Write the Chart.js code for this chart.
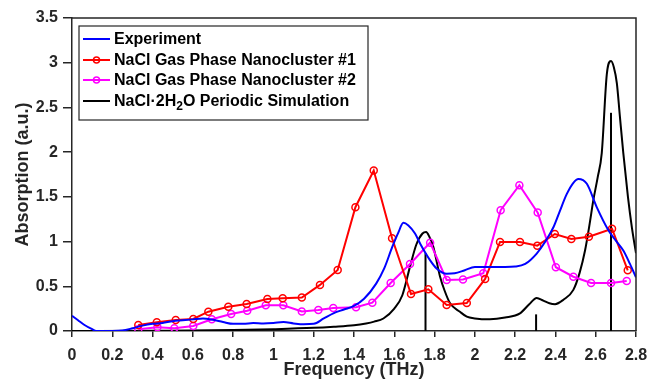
<!DOCTYPE html>
<html><head><meta charset="utf-8">
<script src="https://cdn.jsdelivr.net/npm/chart.js@4.4.1/dist/chart.umd.min.js"></script>
<style>html,body{margin:0;padding:0;background:#fff}</style>
</head><body>
<canvas id="c" width="649" height="386"></canvas>
<script>
// ---- data ----
const seriesNames = ['Experiment', 'NaCl Gas Phase Nanocluster #1', 'NaCl Gas Phase Nanocluster #2', 'NaCl·2H₂O Periodic Simulation'];
const seriesColors = ['#0000ff', '#ff0000', '#ff00ff', '#000000'];

const expX = [0,0.03,0.06,0.1,0.12,0.2,0.25,0.3,0.35,0.4,0.45,0.5,0.55,0.6,0.65,0.7,0.75,0.8,0.85,0.9,0.95,1.0,1.05,1.1,1.15,1.2,1.25,1.3,1.35,1.4,1.45,1.51,1.55,1.59,1.62,1.645,1.67,1.703,1.73,1.778,1.81,1.86,1.9,1.95,2.0,2.05,2.1,2.15,2.2,2.25,2.307,2.35,2.39,2.42,2.456,2.49,2.514,2.556,2.605,2.663,2.7,2.737,2.77,2.8];
const expY = [0.17,0.12,0.07,0.02,0.0,0.0,0.005,0.03,0.06,0.08,0.09,0.11,0.12,0.13,0.14,0.125,0.1,0.08,0.08,0.09,0.085,0.09,0.1,0.085,0.075,0.08,0.14,0.2,0.24,0.28,0.36,0.53,0.7,0.94,1.1,1.21,1.18,1.09,0.97,0.79,0.7,0.64,0.645,0.68,0.715,0.715,0.715,0.715,0.72,0.75,0.866,1.0,1.16,1.33,1.53,1.66,1.70,1.646,1.385,1.126,1.01,0.9,0.75,0.6];

const nc1X = [0.329,0.421,0.515,0.602,0.677,0.776,0.867,0.970,1.046,1.141,1.231,1.319,1.407,1.498,1.589,1.683,1.769,1.860,1.960,2.051,2.125,2.224,2.310,2.397,2.479,2.566,2.681,2.759];
const nc1Y = [0.067,0.097,0.123,0.134,0.216,0.272,0.302,0.358,0.366,0.375,0.515,0.682,1.384,1.794,1.037,0.414,0.467,0.291,0.313,0.582,0.996,0.996,0.954,1.085,1.029,1.055,1.144,0.679];

const nc2X = [0.329,0.424,0.508,0.602,0.694,0.790,0.870,0.962,1.049,1.141,1.223,1.297,1.410,1.491,1.582,1.678,1.778,1.860,1.941,2.042,2.128,2.221,2.312,2.402,2.489,2.577,2.676,2.754];
const nc2Y = [0.019,0.041,0.030,0.056,0.131,0.190,0.227,0.287,0.287,0.218,0.235,0.257,0.265,0.317,0.537,0.749,0.988,0.570,0.576,0.645,1.350,1.630,1.324,0.713,0.607,0.537,0.537,0.559];

const simX = [0,0.4,0.8,1.0,1.2,1.3,1.4,1.46,1.5,1.546,1.6,1.64,1.678,1.71,1.74,1.758,1.775,1.794,1.827,1.85,1.877,1.926,1.96,2.0,2.075,2.15,2.224,2.27,2.307,2.34,2.37,2.398,2.44,2.489,2.52,2.547,2.57,2.588,2.61,2.63,2.655,2.676,2.69,2.705,2.72,2.737,2.76,2.78,2.8];
const simY = [0,0.003,0.01,0.02,0.035,0.048,0.065,0.085,0.105,0.14,0.25,0.4,0.72,0.97,1.09,1.107,1.05,0.94,0.61,0.45,0.31,0.215,0.16,0.14,0.13,0.15,0.197,0.3,0.37,0.34,0.31,0.30,0.35,0.46,0.65,0.9,1.2,1.46,1.72,1.99,2.87,3.02,2.95,2.77,2.4,1.99,1.5,1.15,0.87];

const stickX = [1.755, 2.304, 2.676];
const stickH = [0.87, 0.186, 2.44];

const xTickValues = [0,0.2,0.4,0.6,0.8,1,1.2,1.4,1.6,1.8,2,2.2,2.4,2.6,2.8];
const xTickLabels = ['0','0.2','0.4','0.6','0.8','1','1.2','1.4','1.6','1.8','2','2.2','2.4','2.6','2.8'];
const yTickValues = [0,0.5,1,1.5,2,2.5,3,3.5];
const yTickLabels = ['0','0.5','1','1.5','2','2.5','3','3.5'];

const xTitle = 'Frequency (THz)';
const yTitle = 'Absorption (a.u.)';

// ---- build ----
const pts = (xs, ys) => xs.map((x, i) => ({x, y: ys[i]}));
const AX = '#262626';
const FONT = '"Liberation Sans", Arial, Helvetica, sans-serif';

const datasets = [
  {label: seriesNames[0], data: pts(expX, expY), borderColor: seriesColors[0], borderWidth: 2, pointRadius: 0, cubicInterpolationMode: 'monotone'},
  {label: seriesNames[1], data: pts(nc1X, nc1Y), borderColor: seriesColors[1], borderWidth: 2, pointRadius: 3.5, pointBorderWidth: 1.5, pointBackgroundColor: 'rgba(0,0,0,0)', pointBorderColor: seriesColors[1], tension: 0},
  {label: seriesNames[2], data: pts(nc2X, nc2Y), borderColor: seriesColors[2], borderWidth: 2, pointRadius: 3.5, pointBorderWidth: 1.5, pointBackgroundColor: 'rgba(0,0,0,0)', pointBorderColor: seriesColors[2], tension: 0},
  {label: seriesNames[3], data: pts(simX, simY), borderColor: seriesColors[3], borderWidth: 2, pointRadius: 0, cubicInterpolationMode: 'monotone'}
];
stickX.forEach((sx, i) => {
  datasets.push({label: 'stick' + i, data: [{x: sx, y: 0}, {x: sx, y: stickH[i]}], borderColor: '#000', borderWidth: 2, pointRadius: 0, tension: 0});
});

function drawRichText(ctx, text, x, y, size) {
  const subs = {'₀':'0','₁':'1','₂':'2','₃':'3','₄':'4'};
  let cx = x;
  for (const ch of text) {
    if (subs[ch]) {
      ctx.font = 'bold ' + Math.round(size * 0.72) + 'px ' + FONT;
      ctx.fillText(subs[ch], cx, y + size * 0.32);
      cx += ctx.measureText(subs[ch]).width;
    } else {
      ctx.font = 'bold ' + size + 'px ' + FONT;
      ctx.fillText(ch, cx, y);
      cx += ctx.measureText(ch).width;
    }
  }
}

const framePlugin = {
  id: 'frame',
  afterDraw(chart) {
    const {ctx, chartArea: a} = chart;
    ctx.save();
    ctx.strokeStyle = AX; ctx.lineWidth = 1.5;
    ctx.beginPath();
    ctx.moveTo(a.left, a.top); ctx.lineTo(a.right, a.top); ctx.lineTo(a.right, a.bottom);
    ctx.stroke();
    // legend
    const bx = a.left + 7, by = a.top + 8, bw = 289, bh = 94;
    ctx.fillStyle = '#fff';
    ctx.fillRect(bx, by, bw, bh);
    ctx.lineWidth = 1.2; ctx.strokeStyle = AX;
    ctx.strokeRect(bx, by, bw, bh);
    const rowY = [13, 34, 54, 75];
    seriesNames.forEach((name, i) => {
      const y = by + rowY[i];
      ctx.strokeStyle = seriesColors[i]; ctx.lineWidth = 2;
      ctx.beginPath(); ctx.moveTo(bx + 4, y); ctx.lineTo(bx + 31, y); ctx.stroke();
      if (i === 1 || i === 2) {
        ctx.lineWidth = 1.5;
        ctx.beginPath(); ctx.arc(bx + 17.5, y, 3, 0, Math.PI * 2); ctx.stroke();
      }
      ctx.fillStyle = '#000';
      ctx.textBaseline = 'middle';
      ctx.textAlign = 'left';
      drawRichText(ctx, name, bx + 35, y + 1, 16);
    });
    ctx.restore();
  }
};

new Chart(document.getElementById('c'), {
  type: 'line',
  data: {datasets},
  plugins: [framePlugin],
  options: {
    responsive: false,
    animation: false,
    devicePixelRatio: 1,
    layout: {padding: {top: 18, right: 13, left: 0, bottom: 0}},
    plugins: {legend: {display: false}, tooltip: {enabled: false}},
    scales: {
      x: {
        type: 'linear', min: 0, max: 2.8,
        afterBuildTicks: s => { s.ticks = xTickValues.map(v => ({value: v})); },
        afterFit: s => { s.height = 55; s.paddingLeft = 0; s.paddingRight = 0; },
        ticks: {callback: (v, i) => xTickLabels[i], color: AX, font: {family: FONT, size: 16, weight: 'bold'}, padding: 9, maxRotation: 0, autoSkip: false},
        grid: {drawOnChartArea: false, drawTicks: true, tickLength: 6, color: AX, lineWidth: 1.5},
        border: {display: true, color: AX, width: 1.5},
        title: {display: true, text: xTitle, color: AX, font: {family: FONT, size: 18, weight: 'bold'}, padding: {top: 0, bottom: 5}}
      },
      y: {
        type: 'linear', min: 0, max: 3.5,
        afterBuildTicks: s => { s.ticks = yTickValues.map(v => ({value: v})); },
        afterFit: s => { s.width = 72; s.paddingTop = 0; s.paddingBottom = 0; },
        ticks: {callback: (v, i) => yTickLabels[i], color: AX, font: {family: FONT, size: 16, weight: 'bold'}, padding: 5, autoSkip: false},
        grid: {drawOnChartArea: false, drawTicks: true, tickLength: 9, color: AX, lineWidth: 1.5},
        border: {display: true, color: AX, width: 1.5},
        title: {display: true, text: yTitle, color: AX, font: {family: FONT, size: 18, weight: 'bold'}, padding: {top: 12, bottom: 0}}
      }
    }
  }
});
</script>
</body></html>
